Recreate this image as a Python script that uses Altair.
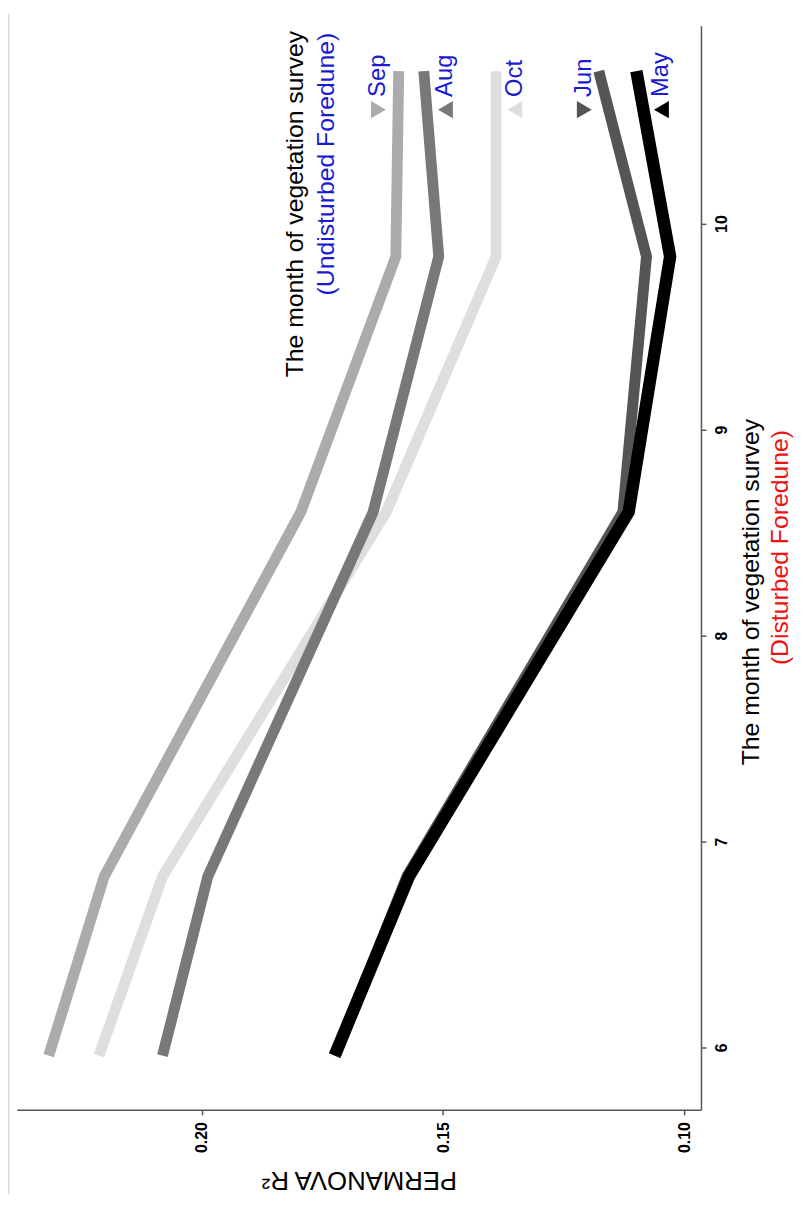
import altair as alt
import pandas as pd

# ---- data ----
series = ["Oct", "Sep", "Aug", "Jun", "May"]          # drawing order
colors = ["#dedede", "#ababab", "#787878", "#555555", "#000000"]
months = [5.96, 6.83, 8.60, 9.84, 10.74]
r2_values = {
    "Sep": [0.2318, 0.2203, 0.1795, 0.1598, 0.1592],
    "Aug": [0.2082, 0.1988, 0.1645, 0.1509, 0.1540],
    "Oct": [0.2214, 0.2082, 0.1618, 0.1390, 0.1390],
    "Jun": [0.1723, 0.1575, 0.1127, 0.1078, 0.1177],
    "May": [0.1725, 0.1571, 0.1115, 0.1029, 0.1099],
}

label_names = ["Sep", "Aug", "Oct", "Jun", "May"]
label_shapes = ["triangle-right", "triangle-left", "triangle-left", "triangle-right", "triangle-left"]
label_r2 = [0.1634, 0.1495, 0.1351, 0.1207, 0.1047]
marker_month = 10.553
text_month = 10.615

r2_ticks = [0.10, 0.15, 0.20]
month_ticks = [6, 7, 8, 9, 10]

rows = []
for s in series:
    for m, v in zip(months, r2_values[s]):
        rows.append({"series": s, "month": m, "r2": v})
df = pd.DataFrame(rows)

lab = pd.DataFrame({
    "series": label_names,
    "r2": label_r2,
    "mmark": [marker_month] * len(label_names),
    "mtext": [text_month] * len(label_names),
})

FONT = "Liberation Sans"
BLUE = "#1a1acf"
RED = "#ee1111"

x_scale = alt.Scale(domain=[0.0965, 0.2384], reverse=True, nice=False, zero=False)
y_scale = alt.Scale(domain=[5.697, 10.96], nice=False, zero=False)
color_scale = alt.Scale(domain=series, range=colors)

x_enc = alt.X(
    "r2:Q", scale=x_scale,
    axis=alt.Axis(
        orient="bottom", values=r2_ticks, format=".2f", grid=False,
        labelAngle=270, labelAlign="right", labelBaseline="middle",
        labelFont=FONT, labelFontWeight="bold", labelFontSize=16, labelColor="black",
        labelPadding=7, tickSize=5, tickColor="#555555", tickWidth=1.5,
        domainColor="#555555", domainWidth=1.5,
        title="PERMANOVA R²", titleAngle=180, titleFont=FONT, titleFontSize=26,
        titleFontWeight="normal", titleColor="black", titleBaseline="alphabetic",
        titleAlign="center", titleX=345.5, titleY=62,
    ),
)
y_enc = alt.Y(
    "month:Q", scale=y_scale,
    axis=alt.Axis(
        orient="right", values=month_ticks, format="d", grid=False,
        labelAngle=270, labelAlign="center", labelBaseline="top",
        labelFont=FONT, labelFontWeight="bold", labelFontSize=16, labelColor="black",
        labelPadding=8, tickSize=5, tickColor="#555555", tickWidth=1.5,
        domainColor="#555555", domainWidth=1.5, title=None,
    ),
)

layers = []
for s, c in zip(series, colors):
    layers.append(
        alt.Chart(df).transform_filter(alt.datum.series == s)
        .mark_line(color=c, strokeWidth=11 if s != "May" else 12.5, strokeCap="butt", strokeJoin="miter")
        .encode(x=x_enc, y=y_enc, order="month:Q")
    )

markers = alt.Chart(lab).mark_point(filled=True, opacity=1, size=300).encode(
    x=alt.X("r2:Q", scale=x_scale),
    y=alt.Y("mmark:Q", scale=y_scale),
    color=alt.Color("series:N", scale=color_scale, legend=None),
    shape=alt.Shape("series:N", scale=alt.Scale(domain=label_names, range=label_shapes), legend=None),
)
texts = alt.Chart(lab).mark_text(
    angle=270, align="left", baseline="middle", font=FONT, fontSize=24, color=BLUE
).encode(
    x=alt.X("r2:Q", scale=x_scale),
    y=alt.Y("mtext:Q", scale=y_scale),
    text="series:N",
)


def note(txt, x, y, color, align):
    return alt.Chart(pd.DataFrame({"t": [txt]})).mark_text(
        angle=270, align=align, baseline="middle", font=FONT, fontSize=25, color=color
    ).encode(x=alt.value(x), y=alt.value(y), text="t:N")


notes = [
    note("The month of vegetation survey", 281, 5, "black", "right"),
    note("(Undisturbed Foredune)", 312, 7, BLUE, "right"),
    note("The month of vegetation survey", 742, 572, "black", "center"),
    note("(Disturbed Foredune)", 771, 527, RED, "center"),
]

# faint border line at the far left of the picture
border = alt.Chart(pd.DataFrame({"t": [0]})).mark_rule(color="#d9d9d9", strokeWidth=1.5).encode(
    x=alt.value(-8.2), y=alt.value(-12), y2=alt.value(1180)
)

chart = alt.layer(*layers, markers, texts, *notes, border).properties(
    width=691, height=1095,
    autosize=alt.AutoSizeParams(type="none"),
    padding={"left": 9, "top": 12, "right": 97, "bottom": 85},
    background="white",
).configure_view(stroke=None)

chart.save("out.html", embed_options={"renderer": "svg", "actions": False})
